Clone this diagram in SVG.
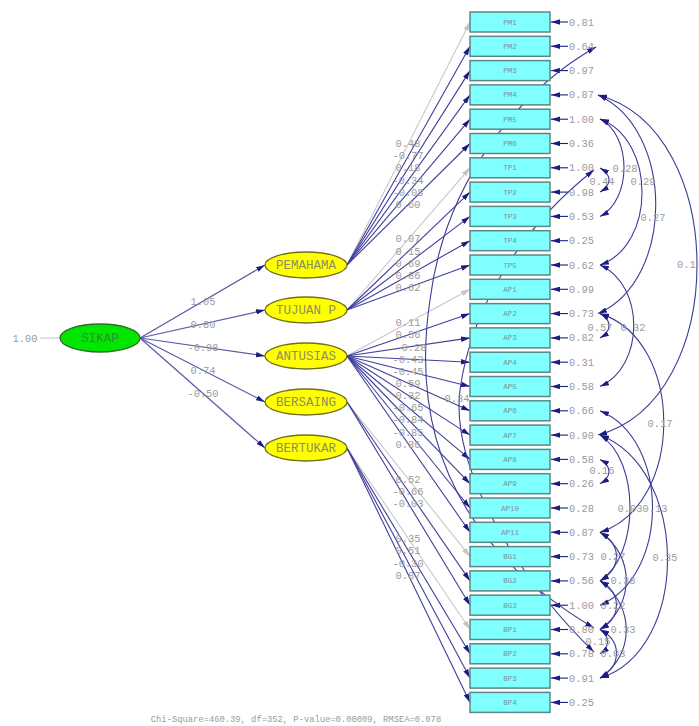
<svg xmlns="http://www.w3.org/2000/svg" width="699" height="726" viewBox="0 0 699 726">
<defs>
<marker id="ah" viewBox="0 0 10 6" refX="10" refY="3" markerWidth="9" markerHeight="5.5" markerUnits="userSpaceOnUse" orient="auto-start-reverse"><path d="M0,0 L10,3 L0,6 z" fill="#1c1c82"/></marker>
<marker id="ahg" viewBox="0 0 10 6" refX="10" refY="3" markerWidth="9" markerHeight="5.5" markerUnits="userSpaceOnUse" orient="auto"><path d="M0,0 L10,3 L0,6 z" fill="#c4c4c4"/></marker>
</defs>
<style>
.lbl{font-family:"Liberation Mono",monospace;font-size:10.4px;fill:#9a9a9a;text-anchor:middle}
.err{font-family:"Liberation Mono",monospace;font-size:10.4px;fill:#9a9a9a}
.box{fill:#80ffff;stroke:#5a8888;stroke-width:1.5}
.btx{font-family:"Liberation Mono",monospace;font-size:7.5px;fill:#7a929c;text-anchor:middle}
.lat{fill:#ffff00;stroke:#70701e;stroke-width:1.3}
.ltx{font-family:"Liberation Mono",monospace;font-size:12.5px;fill:#8e8e66;text-anchor:middle}
.ld{stroke:#3f3f9c;stroke-width:1.1;fill:none;marker-end:url(#ah)}
.ldg{stroke:#c8c8c8;stroke-width:1.1;fill:none;marker-end:url(#ahg)}
.st{stroke:#5a5aa8;stroke-width:1.2;fill:none;marker-end:url(#ah)}
.ea{stroke:#1c1c82;stroke-width:1.1;fill:none;marker-end:url(#ah)}
.cv{stroke:#3c3c96;stroke-width:1.1;fill:none;marker-start:url(#ah);marker-end:url(#ah)}
</style>
<rect width="699" height="726" fill="#ffffff"/>
<g id="connectors">
<line x1="40" y1="338" x2="60" y2="338" stroke="#c8c8c8" stroke-width="1.1"/>
<line class="st" x1="140" y1="338" x2="265" y2="265"/>
<line class="st" x1="140" y1="338" x2="265" y2="310"/>
<line class="st" x1="140" y1="338" x2="265" y2="356"/>
<line class="st" x1="140" y1="338" x2="265" y2="402"/>
<line class="st" x1="140" y1="338" x2="265" y2="448"/>
<line class="ldg" x1="347" y1="265" x2="470" y2="22"/>
<line class="ld" x1="347" y1="265" x2="470" y2="46.3"/>
<line class="ld" x1="347" y1="265" x2="470" y2="70.6"/>
<line class="ld" x1="347" y1="265" x2="470" y2="94.9"/>
<line class="ld" x1="347" y1="265" x2="470" y2="119.2"/>
<line class="ld" x1="347" y1="265" x2="470" y2="143.5"/>
<line class="ldg" x1="347" y1="310" x2="470" y2="167.8"/>
<line class="ld" x1="347" y1="310" x2="470" y2="192.1"/>
<line class="ld" x1="347" y1="310" x2="470" y2="216.4"/>
<line class="ld" x1="347" y1="310" x2="470" y2="240.7"/>
<line class="ld" x1="347" y1="310" x2="470" y2="265"/>
<line class="ldg" x1="347" y1="356" x2="470" y2="289.3"/>
<line class="ld" x1="347" y1="356" x2="470" y2="313.6"/>
<line class="ld" x1="347" y1="356" x2="470" y2="337.9"/>
<line class="ld" x1="347" y1="356" x2="470" y2="362.2"/>
<line class="ld" x1="347" y1="356" x2="470" y2="386.5"/>
<line class="ld" x1="347" y1="356" x2="470" y2="410.8"/>
<line class="ld" x1="347" y1="356" x2="470" y2="435.1"/>
<line class="ld" x1="347" y1="356" x2="470" y2="459.4"/>
<line class="ld" x1="347" y1="356" x2="470" y2="483.7"/>
<line class="ld" x1="347" y1="356" x2="470" y2="508"/>
<line class="ld" x1="347" y1="356" x2="470" y2="532.3"/>
<line class="ldg" x1="347" y1="402" x2="470" y2="556.6"/>
<line class="ld" x1="347" y1="402" x2="470" y2="580.9"/>
<line class="ld" x1="347" y1="402" x2="470" y2="605.2"/>
<line class="ldg" x1="347" y1="448" x2="470" y2="629.5"/>
<line class="ld" x1="347" y1="448" x2="470" y2="653.8"/>
<line class="ld" x1="347" y1="448" x2="470" y2="678.1"/>
<line class="ld" x1="347" y1="448" x2="470" y2="702.4"/>
<g>
<line class="ea" x1="568" y1="22" x2="551" y2="22"/>
<line class="ea" x1="568" y1="46.3" x2="551" y2="46.3"/>
<line class="ea" x1="568" y1="70.6" x2="551" y2="70.6"/>
<line class="ea" x1="568" y1="94.9" x2="551" y2="94.9"/>
<line class="ea" x1="568" y1="119.2" x2="551" y2="119.2"/>
<line class="ea" x1="568" y1="143.5" x2="551" y2="143.5"/>
<line class="ea" x1="568" y1="167.8" x2="551" y2="167.8"/>
<line class="ea" x1="568" y1="192.1" x2="551" y2="192.1"/>
<line class="ea" x1="568" y1="216.4" x2="551" y2="216.4"/>
<line class="ea" x1="568" y1="240.7" x2="551" y2="240.7"/>
<line class="ea" x1="568" y1="265" x2="551" y2="265"/>
<line class="ea" x1="568" y1="289.3" x2="551" y2="289.3"/>
<line class="ea" x1="568" y1="313.6" x2="551" y2="313.6"/>
<line class="ea" x1="568" y1="337.9" x2="551" y2="337.9"/>
<line class="ea" x1="568" y1="362.2" x2="551" y2="362.2"/>
<line class="ea" x1="568" y1="386.5" x2="551" y2="386.5"/>
<line class="ea" x1="568" y1="410.8" x2="551" y2="410.8"/>
<line class="ea" x1="568" y1="435.1" x2="551" y2="435.1"/>
<line class="ea" x1="568" y1="459.4" x2="551" y2="459.4"/>
<line class="ea" x1="568" y1="483.7" x2="551" y2="483.7"/>
<line class="ea" x1="568" y1="508" x2="551" y2="508"/>
<line class="ea" x1="568" y1="532.3" x2="551" y2="532.3"/>
<line class="ea" x1="568" y1="556.6" x2="551" y2="556.6"/>
<line class="ea" x1="568" y1="580.9" x2="551" y2="580.9"/>
<line class="ea" x1="568" y1="605.2" x2="551" y2="605.2"/>
<line class="ea" x1="568" y1="629.5" x2="551" y2="629.5"/>
<line class="ea" x1="568" y1="653.8" x2="551" y2="653.8"/>
<line class="ea" x1="568" y1="678.1" x2="551" y2="678.1"/>
<line class="ea" x1="568" y1="702.4" x2="551" y2="702.4"/>
</g>
<path class="cv" d="M596 47 C520 90 445 180 430 300 C412 420 445 540 594 628"/>
<path class="cv" d="M594 170 C530 220 472 300 460 390 C450 470 520 580 594 652"/>
<path class="cv" d="M598 95 C730 130 730 400 598 435"/>
<path class="cv" d="M598 95 C675 130 675 280 598 313.6"/>
<path class="cv" d="M600 119 C632 135 632 200 600 216.4"/>
<path class="cv" d="M600 119 C656 140 656 245 600 265"/>
<path class="cv" d="M600 168 C612 175 612 185 600 192"/>
<path class="cv" d="M600 313.6 C612 320 612 331 600 338"/>
<path class="cv" d="M600 265 C645 285 645 366 600 386.5"/>
<path class="cv" d="M600 313.6 C685 340 685 505 600 532.3"/>
<path class="cv" d="M600 459.4 C612 466 612 477 600 483.7"/>
<path class="cv" d="M600 435.1 C690 470 690 650 600 678.1"/>
<path class="cv" d="M600 410.8 C670 440 670 575 600 605.2"/>
<path class="cv" d="M600 435.1 C640 460 640 555 600 580.9"/>
<path class="cv" d="M600 532.3 C622 545 622 568 600 580.9"/>
<path class="cv" d="M600 532.3 C635 555 635 605 600 629.5"/>
<path class="cv" d="M600 580.9 C622 593 622 617 600 629.5"/>
<path class="cv" d="M600 580.9 C635 605 635 655 600 678.1"/>
<path class="cv" d="M600 629.5 C610 636 610 647 600 653.8"/>
<path class="cv" d="M600 629.5 C622 641 622 665 600 678.1"/>
</g>
<g id="labels">
<text class="lbl" x="25" y="341.5">1.00</text>
<text class="lbl" x="203" y="305">1.05</text>
<text class="lbl" x="203" y="327.5">0.80</text>
<text class="lbl" x="203" y="350.5">-0.98</text>
<text class="lbl" x="203" y="374">0.74</text>
<text class="lbl" x="203" y="396.5">-0.50</text>
<text class="lbl" x="408" y="147">0.48</text>
<text class="lbl" x="408" y="159">-0.77</text>
<text class="lbl" x="408" y="171.3">0.18</text>
<text class="lbl" x="408" y="183.5">-0.34</text>
<text class="lbl" x="408" y="195.6">-0.08</text>
<text class="lbl" x="408" y="207.8">0.60</text>
<text class="lbl" x="408" y="242.4">0.07</text>
<text class="lbl" x="408" y="254.5">0.15</text>
<text class="lbl" x="408" y="266.7">0.69</text>
<text class="lbl" x="408" y="278.9">0.86</text>
<text class="lbl" x="408" y="291">0.62</text>
<text class="lbl" x="408" y="326.2">0.11</text>
<text class="lbl" x="408" y="338.3">0.56</text>
<text class="lbl" x="414" y="350.5">0.28</text>
<text class="lbl" x="408" y="362.6">-0.43</text>
<text class="lbl" x="408" y="374.8">-0.45</text>
<text class="lbl" x="408" y="386.9">0.59</text>
<text class="lbl" x="408" y="399.1">0.32</text>
<text class="lbl" x="408" y="411.2">-0.65</text>
<text class="lbl" x="408" y="423.4">-0.84</text>
<text class="lbl" x="408" y="435.5">-0.85</text>
<text class="lbl" x="408" y="447.7">0.36</text>
<text class="lbl" x="408" y="482.8">0.52</text>
<text class="lbl" x="408" y="495">-0.66</text>
<text class="lbl" x="408" y="507.1">-0.03</text>
<text class="lbl" x="408" y="542.3">0.35</text>
<text class="lbl" x="408" y="554.4">0.51</text>
<text class="lbl" x="408" y="566.5">-0.30</text>
<text class="lbl" x="408" y="578.7">0.87</text>
<text class="lbl" x="457" y="401.5">0.34</text>
<text class="lbl" x="677" y="268" style="text-anchor:start">0.1</text>
<text class="lbl" x="653" y="220.5">0.27</text>
<text class="lbl" x="625" y="171.5">0.28</text>
<text class="lbl" x="643" y="184.5">0.29</text>
<text class="lbl" x="602" y="184.5">0.44</text>
<text class="lbl" x="600" y="330.5">0.57</text>
<text class="lbl" x="633" y="330.5">0.32</text>
<text class="lbl" x="660" y="426.5">0.17</text>
<text class="lbl" x="602" y="473.5">0.16</text>
<text class="lbl" x="665" y="560.5">0.35</text>
<text class="lbl" x="655" y="511.5">0.13</text>
<text class="lbl" x="630" y="511.5">0.03</text>
<text class="lbl" x="613" y="560">0.27</text>
<text class="lbl" x="623" y="584">0.38</text>
<text class="lbl" x="613" y="608.5">0.22</text>
<text class="lbl" x="623" y="632.5">0.33</text>
<text class="lbl" x="598" y="644.5">0.15</text>
<text class="lbl" x="613" y="657">0.03</text>
</g>
<g id="errors">
<text class="err" x="569" y="25.5">0.81</text>
<text class="err" x="569" y="49.8">0.64</text>
<text class="err" x="569" y="74.1">0.97</text>
<text class="err" x="569" y="98.4">0.87</text>
<text class="err" x="569" y="122.7">1.00</text>
<text class="err" x="569" y="147">0.36</text>
<text class="err" x="569" y="171.3">1.00</text>
<text class="err" x="569" y="195.6">0.98</text>
<text class="err" x="569" y="219.9">0.53</text>
<text class="err" x="569" y="244.2">0.25</text>
<text class="err" x="569" y="268.5">0.62</text>
<text class="err" x="569" y="292.8">0.99</text>
<text class="err" x="569" y="317.1">0.73</text>
<text class="err" x="569" y="341.4">0.82</text>
<text class="err" x="569" y="365.7">0.31</text>
<text class="err" x="569" y="390">0.58</text>
<text class="err" x="569" y="414.3">0.66</text>
<text class="err" x="569" y="438.6">0.90</text>
<text class="err" x="569" y="462.9">0.58</text>
<text class="err" x="569" y="487.2">0.26</text>
<text class="err" x="569" y="511.5">0.28</text>
<text class="err" x="569" y="535.8">0.87</text>
<text class="err" x="569" y="560.1">0.73</text>
<text class="err" x="569" y="584.4">0.56</text>
<text class="err" x="569" y="608.7">1.00</text>
<text class="err" x="569" y="633">0.80</text>
<text class="err" x="569" y="657.3">0.78</text>
<text class="err" x="569" y="681.6">0.91</text>
<text class="err" x="569" y="705.9">0.25</text>
</g>
<g id="SIKAP"><ellipse cx="100" cy="338" rx="40" ry="14" fill="#00e600" stroke="#2a6e2a" stroke-width="1.3"/><text class="ltx" x="100" y="342" style="fill:#3d8a3d">SIKAP</text></g>
<g id="PEMAHAMA"><ellipse class="lat" cx="306" cy="265" rx="41" ry="13"/><text class="ltx" x="306" y="269">PEMAHAMA</text></g>
<g id="TUJUAN_P"><ellipse class="lat" cx="306" cy="310" rx="41" ry="13"/><text class="ltx" x="306" y="314">TUJUAN P</text></g>
<g id="ANTUSIAS"><ellipse class="lat" cx="306" cy="356" rx="41" ry="13"/><text class="ltx" x="306" y="360">ANTUSIAS</text></g>
<g id="BERSAING"><ellipse class="lat" cx="306" cy="402" rx="41" ry="13"/><text class="ltx" x="306" y="406">BERSAING</text></g>
<g id="BERTUKAR"><ellipse class="lat" cx="306" cy="448" rx="41" ry="13"/><text class="ltx" x="306" y="452">BERTUKAR</text></g>
<g id="PM1"><rect class="box" x="470" y="12" width="80" height="20"/><text class="btx" x="510" y="24.5">PM1</text></g>
<g id="PM2"><rect class="box" x="470" y="36.3" width="80" height="20"/><text class="btx" x="510" y="48.8">PM2</text></g>
<g id="PM3"><rect class="box" x="470" y="60.6" width="80" height="20"/><text class="btx" x="510" y="73.1">PM3</text></g>
<g id="PM4"><rect class="box" x="470" y="84.9" width="80" height="20"/><text class="btx" x="510" y="97.4">PM4</text></g>
<g id="PM5"><rect class="box" x="470" y="109.2" width="80" height="20"/><text class="btx" x="510" y="121.7">PM5</text></g>
<g id="PM6"><rect class="box" x="470" y="133.5" width="80" height="20"/><text class="btx" x="510" y="146">PM6</text></g>
<g id="TP1"><rect class="box" x="470" y="157.8" width="80" height="20"/><text class="btx" x="510" y="170.3">TP1</text></g>
<g id="TP2"><rect class="box" x="470" y="182.1" width="80" height="20"/><text class="btx" x="510" y="194.6">TP2</text></g>
<g id="TP3"><rect class="box" x="470" y="206.4" width="80" height="20"/><text class="btx" x="510" y="218.9">TP3</text></g>
<g id="TP4"><rect class="box" x="470" y="230.7" width="80" height="20"/><text class="btx" x="510" y="243.2">TP4</text></g>
<g id="TP5"><rect class="box" x="470" y="255" width="80" height="20"/><text class="btx" x="510" y="267.5">TP5</text></g>
<g id="AP1"><rect class="box" x="470" y="279.3" width="80" height="20"/><text class="btx" x="510" y="291.8">AP1</text></g>
<g id="AP2"><rect class="box" x="470" y="303.6" width="80" height="20"/><text class="btx" x="510" y="316.1">AP2</text></g>
<g id="AP3"><rect class="box" x="470" y="327.9" width="80" height="20"/><text class="btx" x="510" y="340.4">AP3</text></g>
<g id="AP4"><rect class="box" x="470" y="352.2" width="80" height="20"/><text class="btx" x="510" y="364.7">AP4</text></g>
<g id="AP5"><rect class="box" x="470" y="376.5" width="80" height="20"/><text class="btx" x="510" y="389">AP5</text></g>
<g id="AP6"><rect class="box" x="470" y="400.8" width="80" height="20"/><text class="btx" x="510" y="413.3">AP6</text></g>
<g id="AP7"><rect class="box" x="470" y="425.1" width="80" height="20"/><text class="btx" x="510" y="437.6">AP7</text></g>
<g id="AP8"><rect class="box" x="470" y="449.4" width="80" height="20"/><text class="btx" x="510" y="461.9">AP8</text></g>
<g id="AP9"><rect class="box" x="470" y="473.7" width="80" height="20"/><text class="btx" x="510" y="486.2">AP9</text></g>
<g id="AP10"><rect class="box" x="470" y="498" width="80" height="20"/><text class="btx" x="510" y="510.5">AP10</text></g>
<g id="AP11"><rect class="box" x="470" y="522.3" width="80" height="20"/><text class="btx" x="510" y="534.8">AP11</text></g>
<g id="BG1"><rect class="box" x="470" y="546.6" width="80" height="20"/><text class="btx" x="510" y="559.1">BG1</text></g>
<g id="BG2"><rect class="box" x="470" y="570.9" width="80" height="20"/><text class="btx" x="510" y="583.4">BG2</text></g>
<g id="BG3"><rect class="box" x="470" y="595.2" width="80" height="20"/><text class="btx" x="510" y="607.7">BG3</text></g>
<g id="BP1"><rect class="box" x="470" y="619.5" width="80" height="20"/><text class="btx" x="510" y="632">BP1</text></g>
<g id="BP2"><rect class="box" x="470" y="643.8" width="80" height="20"/><text class="btx" x="510" y="656.3">BP2</text></g>
<g id="BP3"><rect class="box" x="470" y="668.1" width="80" height="20"/><text class="btx" x="510" y="680.6">BP3</text></g>
<g id="BP4"><rect class="box" x="470" y="692.4" width="80" height="20"/><text class="btx" x="510" y="704.9">BP4</text></g>
<text x="296" y="722" style="font-family:'Liberation Mono',monospace;font-size:8.8px;fill:#9a9a9a;text-anchor:middle">Chi-Square=460.39, df=352, P-value=0.00009, RMSEA=0.078</text>
</svg>
